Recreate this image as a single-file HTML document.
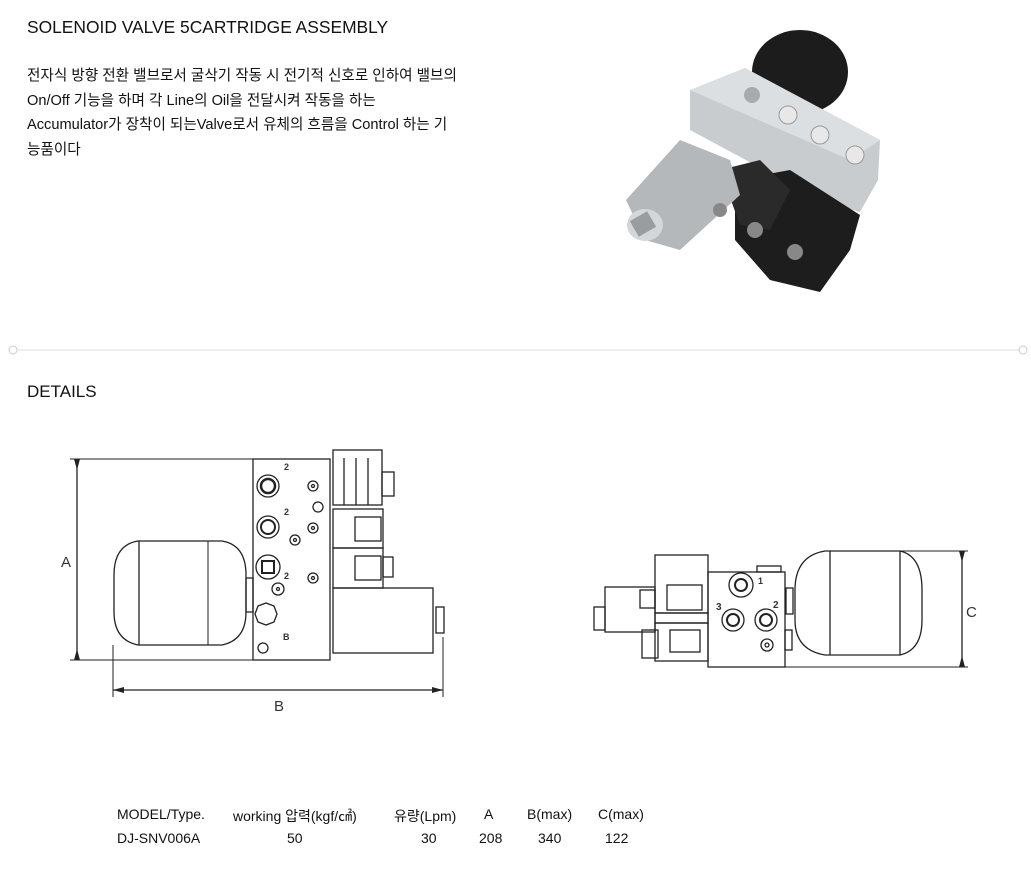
<!DOCTYPE html>
<html><head><meta charset="utf-8"><style>
body{margin:0;width:1031px;height:871px;background:#fff;position:relative;font-family:"Liberation Sans","Noto Sans CJK KR",sans-serif;color:#111;overflow:hidden}
.t{position:absolute;white-space:nowrap}
</style></head><body>
<div class="t" style="left:27px;top:17px;font-size:17.4px;">SOLENOID VALVE 5CARTRIDGE ASSEMBLY</div>
<div class="t" style="left:27px;top:64px;font-size:14.6px;line-height:24.6px;">전자식 방향 전환 밸브로서 굴삭기 작동 시 전기적 신호로 인하여 밸브의<br>On/Off 기능을 하며 각 Line의 Oil을 전달시켜 작동을 하는<br>Accumulator가 장착이 되는Valve로서 유체의 흐름을 Control 하는 기<br>능품이다</div>
<div class="t" style="left:27px;top:382px;font-size:17px;">DETAILS</div>
<div class="t" style="left:117px;top:806px;font-size:14px;">MODEL/Type.</div>
<div class="t" style="left:233px;top:806px;font-size:14px;">working 압력(kgf/㎠)</div>
<div class="t" style="left:394px;top:806px;font-size:14px;">유량(Lpm)</div>
<div class="t" style="left:484px;top:806px;font-size:14px;">A</div>
<div class="t" style="left:527px;top:806px;font-size:14px;">B(max)</div>
<div class="t" style="left:598px;top:806px;font-size:14px;">C(max)</div>
<div class="t" style="left:117px;top:830px;font-size:14px;">DJ-SNV006A</div>
<div class="t" style="left:287px;top:830px;font-size:14px;">50</div>
<div class="t" style="left:421px;top:830px;font-size:14px;">30</div>
<div class="t" style="left:479px;top:830px;font-size:14px;">208</div>
<div class="t" style="left:538px;top:830px;font-size:14px;">340</div>
<div class="t" style="left:605px;top:830px;font-size:14px;">122</div>

<svg width="1031" height="871" style="position:absolute;left:0;top:0" xmlns="http://www.w3.org/2000/svg">
<line x1="17" y1="350" x2="1019" y2="350" stroke="#ddd" stroke-width="1"/>
<circle cx="13" cy="350" r="4" fill="#fff" stroke="#ccc"/>
<circle cx="1023" cy="350" r="4" fill="#fff" stroke="#ccc"/>

<g>
<ellipse cx="800" cy="72" rx="48" ry="42" fill="#1c1c1c"/>
<polygon points="690,90 745,68 880,140 878,180 860,212 820,200 690,130" fill="#c9cccf"/>
<polygon points="690,90 745,68 880,140 850,160" fill="#dcdfe2"/>
<polygon points="735,180 790,170 860,215 850,250 820,292 770,280 735,240" fill="#1d1d1d"/>
<polygon points="720,170 760,160 790,190 770,230 740,225" fill="#2a2a2a"/>
<polygon points="626,200 680,140 730,160 740,195 680,250 645,240" fill="#b5b8bb"/>
<ellipse cx="645" cy="225" rx="18" ry="16" fill="#d4d6d8"/>
<rect x="633" y="215" width="20" height="18" fill="#9a9da0" transform="rotate(-30 643 224)"/>
<circle cx="752" cy="95" r="8" fill="#aaa"/>
<circle cx="788" cy="115" r="9" fill="#e8e8e8" stroke="#999"/>
<circle cx="820" cy="135" r="9" fill="#e8e8e8" stroke="#999"/>
<circle cx="855" cy="155" r="9" fill="#e8e8e8" stroke="#999"/>
<circle cx="720" cy="210" r="7" fill="#888"/>
<circle cx="755" cy="230" r="8" fill="#888"/>
<circle cx="795" cy="252" r="8" fill="#888"/>
</g>

<g fill="none" stroke="#222" stroke-width="1.3">
<line x1="77" y1="459" x2="77" y2="660"/>
<line x1="70" y1="459" x2="253" y2="459" stroke-width="1"/>
<line x1="70" y1="660" x2="253" y2="660" stroke-width="1"/>
<rect x="253" y="459" width="77" height="201"/>
<path d="M138,541 H222 Q246,545 246,575 V612 Q246,640 222,645 H138 Q114,640 114,612 V575 Q114,545 138,541Z"/>
<line x1="139" y1="541" x2="139" y2="645"/><line x1="208" y1="541" x2="208" y2="645" stroke-width="1"/>
<rect x="246" y="578" width="7" height="34"/>
<rect x="333" y="450" width="49" height="55"/>
<line x1="344" y1="458" x2="344" y2="505"/><line x1="356" y1="458" x2="356" y2="505"/><line x1="368" y1="458" x2="368" y2="505"/>
<rect x="382" y="472" width="12" height="24"/>
<rect x="333" y="509" width="50" height="39"/>
<rect x="355" y="517" width="26" height="24"/>
<rect x="333" y="548" width="50" height="40"/>
<rect x="355" y="556" width="26" height="24"/><rect x="383" y="557" width="10" height="20"/>
<rect x="333" y="588" width="100" height="65"/>
<rect x="436" y="607" width="8" height="26"/>
<circle cx="268" cy="486" r="11"/><circle cx="268" cy="486" r="7" stroke-width="2.5"/>
<circle cx="268" cy="527" r="11"/><circle cx="268" cy="527" r="7" stroke-width="2"/>
<circle cx="268" cy="567" r="12"/><rect x="262" y="561" width="12" height="12" stroke-width="2"/>
<polygon points="258,606 266,603 274,606 277,614 274,622 266,625 258,622 255,614"/>
<circle cx="313" cy="486" r="5"/><circle cx="313" cy="486" r="1.5"/>
<circle cx="318" cy="507" r="5"/>
<circle cx="313" cy="528" r="5"/><circle cx="313" cy="528" r="1.5"/>
<circle cx="295" cy="540" r="5"/><circle cx="295" cy="540" r="1.5"/>
<circle cx="313" cy="578" r="5"/><circle cx="313" cy="578" r="1.5"/>
<circle cx="278" cy="589" r="6"/><circle cx="278" cy="589" r="1.5"/>
<circle cx="263" cy="648" r="5"/>
<line x1="113" y1="645" x2="113" y2="697" stroke-width="1"/>
<line x1="443" y1="637" x2="443" y2="697" stroke-width="1"/>
<line x1="113" y1="690" x2="443" y2="690"/>

<rect x="708" y="572" width="77" height="95"/>
<rect x="757" y="566" width="24" height="6"/>
<path d="M825,551 H900 Q922,556 922,590 V620 Q922,650 900,655 H825 Q795,650 795,620 V590 Q795,556 825,551Z"/>
<line x1="830" y1="551" x2="830" y2="655"/><line x1="900" y1="551" x2="900" y2="655"/>
<rect x="786" y="588" width="7" height="26"/>
<rect x="785" y="630" width="7" height="20"/>
<rect x="655" y="555" width="53" height="58"/>
<rect x="655" y="613" width="53" height="10"/>
<rect x="667" y="585" width="35" height="25"/>
<rect x="640" y="590" width="15" height="18"/>
<rect x="605" y="587" width="50" height="45"/>
<rect x="594" y="607" width="11" height="23"/>
<rect x="655" y="623" width="53" height="38"/>
<rect x="642" y="630" width="16" height="28"/>
<rect x="670" y="630" width="30" height="22"/>
<circle cx="741" cy="585" r="12"/><circle cx="741" cy="585" r="6" stroke-width="2"/>
<circle cx="733" cy="620" r="11"/><circle cx="733" cy="620" r="6" stroke-width="2"/>
<circle cx="766" cy="620" r="11"/><circle cx="766" cy="620" r="6" stroke-width="2"/>
<circle cx="767" cy="645" r="6"/><circle cx="767" cy="645" r="2"/>
<line x1="900" y1="551" x2="968" y2="551" stroke-width="1"/>
<line x1="785" y1="667" x2="968" y2="667" stroke-width="1"/>
<line x1="962" y1="551" x2="962" y2="667"/>
</g>
<g fill="#222">
<polygon points="74,459 80,459 77,470"/><polygon points="74,660 80,660 77,649"/>
<polygon points="113,690 124,687 124,693"/><polygon points="443,690 432,687 432,693"/>
<polygon points="959,551 965,551 962,562"/><polygon points="959,667 965,667 962,656"/>
</g>
<g font-family="Liberation Sans,sans-serif" fill="#333">
<text x="61" y="567" font-size="15">A</text>
<text x="274" y="711" font-size="15">B</text>
<text x="966" y="617" font-size="15">C</text>
<text x="284" y="470" font-size="9" font-weight="bold">2</text>
<text x="284" y="515" font-size="9" font-weight="bold">2</text>
<text x="284" y="579" font-size="9" font-weight="bold">2</text>
<text x="283" y="640" font-size="9" font-weight="bold">B</text>
<text x="716" y="610" font-size="10" font-weight="bold">3</text>
<text x="773" y="608" font-size="10" font-weight="bold">2</text>
<text x="758" y="584" font-size="9" font-weight="bold">1</text>
</g>
</svg>
</body></html>
